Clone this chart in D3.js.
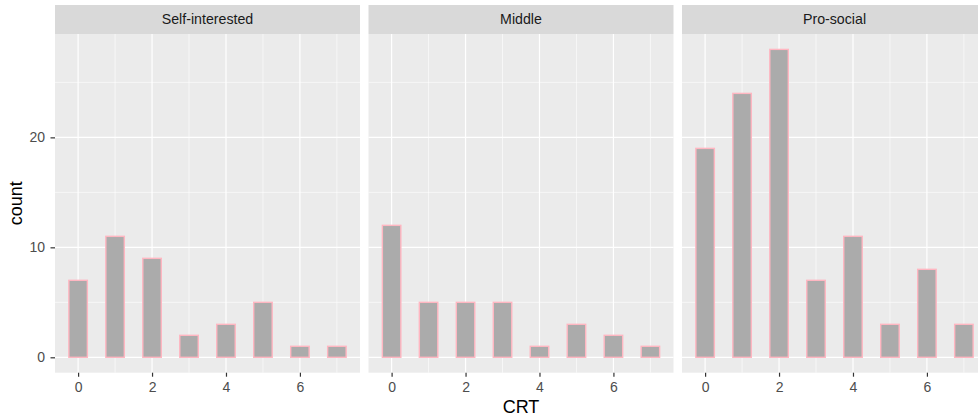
<!DOCTYPE html>
<html>
<head>
<meta charset="utf-8">
<script src="https://cdn.jsdelivr.net/npm/d3@7"></script>
<style>
  body { margin: 0; background: #fff; }
  text { font-family: "Liberation Sans", Arial, sans-serif; }
</style>
</head>
<body>
<div id="chart"></div>
<script>
// facet groups and CRT scores
const groups = ['Self-interested', 'Middle', 'Pro-social'];
const crtScores = [0, 1, 2, 3, 4, 5, 6, 7];

// counts per CRT score, one array per facet
const selfCounts = [7, 11, 9, 2, 3, 5, 1, 1];
const middleCounts = [12, 5, 5, 5, 1, 3, 2, 1];
const proCounts = [19, 24, 28, 7, 11, 3, 8, 3];

const xTicks = [0, 2, 4, 6];
const yTicks = [0, 10, 20];

const countsByGroup = [selfCounts, middleCounts, proCounts];

const width = 978, height = 420;
const binWidth = 0.5;
const FONT = '"Liberation Sans", Arial, sans-serif';

// layout
const plotLeft = 55, panelW = 305, panelGap = 8.5;
const stripTop = 5, stripH = 29;
const panelTop = stripTop + stripH, panelBottom = 372.7;

const svg = d3.select('#chart')
    .append('svg')
    .attr('width', width)
    .attr('height', height);

// histogram bins (binwidth 0.5), empty bins between scores
function makeBins(counts) {
    const bins = [];
    crtScores.forEach((s, i) => {
        bins.push({ x: s, n: counts[i] });
        if (i < crtScores.length - 1) bins.push({ x: s + binWidth, n: 0 });
    });
    return bins;
}

const xMin = crtScores[0] - binWidth / 2, xMax = crtScores[crtScores.length - 1] + binWidth / 2;
const xPad = (xMax - xMin) * 0.05;
const yMax = d3.max(countsByGroup.flat());

const y = d3.scaleLinear()
    .domain([-yMax * 0.05, yMax * 1.05])
    .range([panelBottom, panelTop]);

groups.forEach((g, gi) => {
    const left = plotLeft + gi * (panelW + panelGap);
    const x = d3.scaleLinear()
        .domain([xMin - xPad, xMax + xPad])
        .range([left, left + panelW]);

    const panel = svg.append('g');

    // panel background
    panel.append('rect')
        .attr('x', left).attr('y', panelTop)
        .attr('width', panelW).attr('height', panelBottom - panelTop)
        .attr('fill', '#EBEBEB');

    // minor grid
    const xMinor = d3.range(-1, 9, 2).filter(v => v > x.domain()[0] && v < x.domain()[1]);
    const yMinor = [5, 15, 25];
    panel.selectAll('.xminor').data(xMinor).enter().append('line')
        .attr('x1', d => x(d)).attr('x2', d => x(d))
        .attr('y1', panelTop).attr('y2', panelBottom)
        .attr('stroke', '#fff').attr('stroke-width', 0.6);
    panel.selectAll('.yminor').data(yMinor).enter().append('line')
        .attr('x1', left).attr('x2', left + panelW)
        .attr('y1', d => y(d)).attr('y2', d => y(d))
        .attr('stroke', '#fff').attr('stroke-width', 0.6);

    // major grid
    panel.selectAll('.xmajor').data(xTicks).enter().append('line')
        .attr('x1', d => x(d)).attr('x2', d => x(d))
        .attr('y1', panelTop).attr('y2', panelBottom)
        .attr('stroke', '#fff').attr('stroke-width', 1.2);
    panel.selectAll('.ymajor').data(yTicks).enter().append('line')
        .attr('x1', left).attr('x2', left + panelW)
        .attr('y1', d => y(d)).attr('y2', d => y(d))
        .attr('stroke', '#fff').attr('stroke-width', 1.2);

    // bars
    panel.selectAll('.bar').data(makeBins(countsByGroup[gi])).enter().append('rect')
        .attr('x', d => x(d.x - binWidth / 2))
        .attr('width', d => x(d.x + binWidth / 2) - x(d.x - binWidth / 2))
        .attr('y', d => y(d.n))
        .attr('height', d => y(0) - y(d.n))
        .attr('fill', '#ABABAB')
        .attr('stroke', '#FFB6C1')
        .attr('stroke-width', 1.4);

    // strip
    panel.append('rect')
        .attr('x', left).attr('y', stripTop)
        .attr('width', panelW).attr('height', stripH)
        .attr('fill', '#D9D9D9');
    panel.append('text')
        .attr('x', left + panelW / 2).attr('y', stripTop + stripH / 2)
        .attr('dy', '0.35em')
        .attr('text-anchor', 'middle')
        .attr('font-size', 14.2)
        .attr('fill', '#1A1A1A')
        .text(g);

    // x axis
    const xAxis = svg.append('g')
        .attr('transform', `translate(0,${panelBottom})`)
        .call(d3.axisBottom(x).tickValues(xTicks).tickSize(4).tickPadding(5).tickFormat(d3.format('d')));
    xAxis.select('.domain').remove();
    xAxis.selectAll('line').attr('stroke', '#333').attr('stroke-width', 1.2);
    xAxis.selectAll('text').attr('fill', '#4D4D4D').attr('font-size', 14)
        .style('font-family', FONT);
});

// y axis on first panel
const yAxis = svg.append('g')
    .attr('transform', `translate(${plotLeft},0)`)
    .call(d3.axisLeft(y).tickValues(yTicks).tickSize(4.5).tickPadding(5.5));
yAxis.select('.domain').remove();
yAxis.selectAll('line').attr('stroke', '#333').attr('stroke-width', 1.2);
yAxis.selectAll('text').attr('fill', '#4D4D4D').attr('font-size', 14)
    .style('font-family', FONT);

// axis titles
const fullRight = plotLeft + 3 * panelW + 2 * panelGap;
svg.append('text')
    .attr('x', (plotLeft + fullRight) / 2).attr('y', 412.5)
    .attr('text-anchor', 'middle')
    .attr('font-size', 18)
    .attr('fill', '#000')
    .text('CRT');

svg.append('text')
    .attr('transform', `translate(22,${(panelTop + panelBottom) / 2}) rotate(-90)`)
    .attr('text-anchor', 'middle')
    .attr('font-size', 18)
    .attr('fill', '#000')
    .text('count');
</script>
</body>
</html>
